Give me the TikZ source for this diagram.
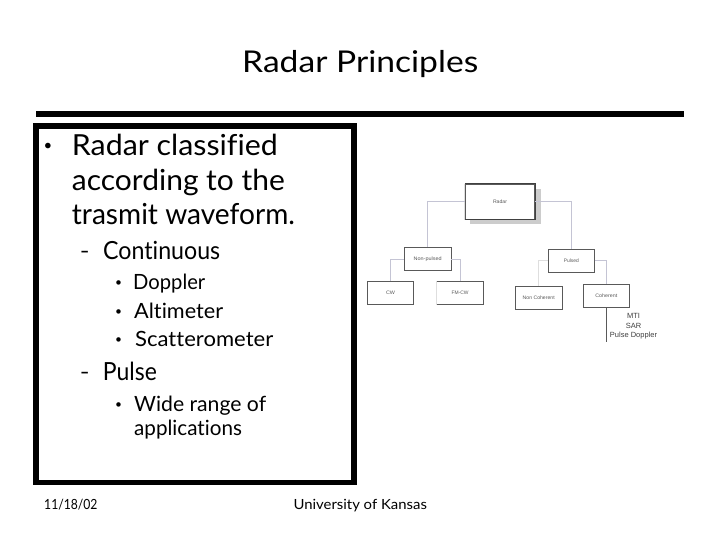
\documentclass[tikz,border=0pt]{standalone}
\usepackage{graphicx}
\usepackage{fontspec}
\setmainfont[Ligatures=NoCommon]{Lato}
\newfontfamily\chartfont{Liberation Sans}
\definecolor{linkgray}{rgb}{0.77,0.77,0.83}
\definecolor{faintgray}{gray}{0.87}
\definecolor{edgegray}{gray}{0.35}
\definecolor{shadowgray}{gray}{0.8}
\newcommand{\fitw}[2]{\resizebox{#1pt}{\height}{#2}}
\tikzset{
  x=1pt,y=-1pt,
  slidetext/.style={inner sep=0pt,anchor=base west,align=left,text=black},
  lvla/.style={slidetext,font=\fontsize{29}{34}\selectfont},
  lvlb/.style={slidetext,font=\fontsize{25}{29}\selectfont},
  lvlc/.style={slidetext,font=\fontsize{21}{24}\selectfont},
  foot/.style={inner sep=0pt,anchor=base west,font=\fontsize{14}{16}\selectfont},
  dot/.style={inner sep=0pt,anchor=base,text=black},
  chartbox/.style={draw=edgegray,line width=0.8pt,fill=white,inner sep=0pt,font=\chartfont\fontsize{5}{6}\selectfont,text=black!65},
  link/.style={draw=linkgray,line width=0.7pt},
  faintlink/.style={draw=faintgray,line width=0.7pt},
}
\newcommand{\cbox}[7]{\node[chartbox,minimum width=#5pt,minimum height=#6pt] (#1) at (#3,#4) {\fitw{#7}{#2}};}
\begin{document}
\begin{tikzpicture}
\useasboundingbox (0,0) rectangle (720,540);
\fill[white] (0,0) rectangle (720,540);
\node[slidetext,font=\fontsize{30}{34}\selectfont] (title) at (242,72.5) {\fitw{236}{Radar Principles}};
\fill[black] (36,111) rectangle (684,116.7);
\draw[black,line width=5.6pt] (36,126) rectangle (354.2,482.4);
% text
\node[dot,font=\fontsize{15}{16}\selectfont] (b1) at (48,151) {•};
\node[lvla] (t1) at (71.7,156) {\fitw{206}{Radar classified}};
\node[lvla] (t2) at (71.7,190) {\fitw{213}{according to the}};
\node[lvla] (t3) at (71.7,224) {\fitw{223}{trasmit waveform.}};
\node[lvlb] (d1) at (80,259) {\fitw{9.3}{–}};
\node[lvlb] (t4) at (103,259) {\fitw{117}{Continuous}};
\node[dot,font=\fontsize{12}{14}\selectfont] (b2) at (118.5,286) {•};
\node[lvlc] (t5) at (133,289) {\fitw{72}{Doppler}};
\node[dot,font=\fontsize{12}{14}\selectfont] (b3) at (118.5,315) {•};
\node[lvlc] (t6) at (134,318) {\fitw{89}{Altimeter}};
\node[dot,font=\fontsize{12}{14}\selectfont] (b4) at (118.5,343) {•};
\node[lvlc] (t7) at (135,346) {\fitw{138}{Scatterometer}};
\node[lvlb] (d2) at (80,380) {\fitw{9.3}{–}};
\node[lvlb] (t8) at (102.7,380) {\fitw{54}{Pulse}};
\node[dot,font=\fontsize{12}{14}\selectfont] (b5) at (118.5,408) {•};
\node[lvlc] (t9) at (134,411) {\fitw{132}{Wide range of}};
\node[lvlc] (t10) at (134,435) {\fitw{107.7}{applications}};
\node[foot] (date) at (44,509) {\fitw{53.3}{11/18/02}};
\node[foot] (univ) at (293.3,509) {\fitw{133.4}{University of Kansas}};
% chart
\fill[shadowgray] (470,189) rectangle (540.5,224.5);
\cbox{radar}{Radar}{500}{201.8}{69.4}{35}{14}
\draw[faintgray,line width=1pt] (radar.south west) -- (radar.north west);
\draw[black!75,line width=1.2pt] (radar.north west) -- (radar.north east) -- (radar.south east) -- (radar.south west);
\cbox{nonp}{Non-pulsed}{427.7}{259}{46.7}{23.4}{28}
\cbox{pulsed}{Pulsed}{571.3}{260.8}{46}{23}{15}
\cbox{cw}{CW}{390.5}{293}{46.4}{23.4}{9}
\cbox{fm}{FM-CW}{460}{293}{46.6}{23.4}{17}
\cbox{nonc}{Non Coherent}{538.7}{297.8}{46.7}{23}{32}
\cbox{coh}{Coherent}{606.3}{295.8}{46}{23}{22}
\draw[faintgray,line width=0.8pt] (fm.north west) -- (fm.south west);
\coordinate (tail) at (606.3,342);
\draw[link] (radar.west) -| (nonp.north);
\draw[link] (radar.east) -| (pulsed.north);
\draw[link] (nonp.west) -| (cw.north);
\draw[link] (nonp.east) -| (fm.north);
\draw[faintlink] (pulsed.west) -| (nonc.north);
\draw[link] (pulsed.east) -| (coh.north);
\draw[edgegray,line width=0.8pt] (coh.south) -- (tail);
\node[inner sep=0pt,align=center,font=\chartfont\fontsize{7.5}{9.5}\selectfont,text=black!75] (modes) at (633.5,326.5) {MTI\\SAR\\Pulse Doppler};
\end{tikzpicture}
\end{document}
